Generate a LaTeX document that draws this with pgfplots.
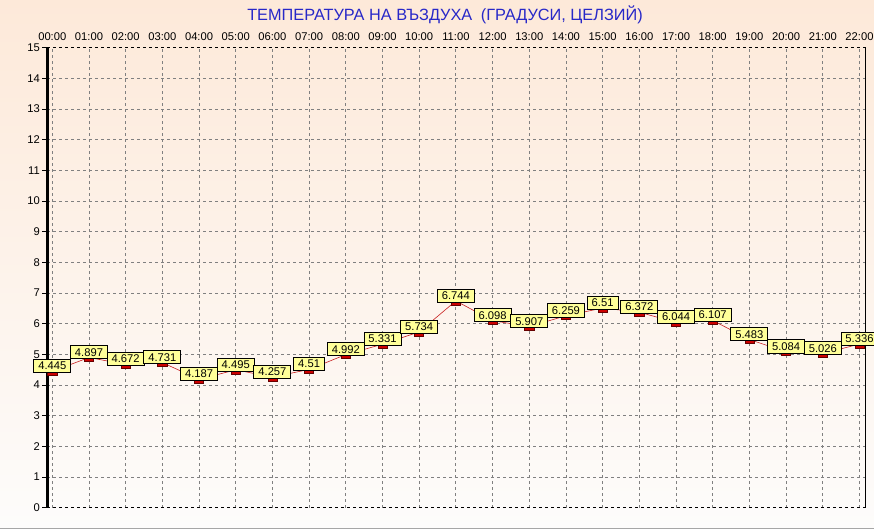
\documentclass[border=0pt]{standalone}
\usepackage{pgfplots}
\pgfplotsset{compat=1.18}
\usepackage{fontspec}
\setmainfont{Liberation Sans}
\definecolor{peach}{RGB}{253,233,217}
\definecolor{bgwhite}{RGB}{253,252,251}
\definecolor{titleblue}{RGB}{40,40,200}
\definecolor{lblyellow}{RGB}{255,255,153}
\definecolor{mkred}{RGB}{204,0,0}
\definecolor{lnred}{RGB}{200,30,30}
\begin{document}
\begin{tikzpicture}[x=1pt,y=1pt]
\useasboundingbox (0,0) rectangle (874,529);
\clip (0,0) rectangle (874,529);
\shade[top color=peach, bottom color=bgwhite] (0,0) rectangle (874,529);
\draw[gray!70, line width=1pt] (0,0.5) -- (874,0.5);
\node[font=\fontsize{16.3}{18}\selectfont, text=titleblue] at (445,514) {ТЕМПЕРАТУРА НА ВЪЗДУХА\hspace{4pt} (ГРАДУСИ, ЦЕЛЗИЙ)};
\begin{axis}[
  at={(47.3pt,21.3pt)}, anchor=south west,
  scale only axis, width=818.4pt, height=460pt,
  xmin=-0.136, xmax=22.17, ymin=0, ymax=15,
  xtick={0,...,22},
  xticklabels={00:00,01:00,02:00,03:00,04:00,05:00,06:00,07:00,08:00,09:00,10:00,11:00,12:00,13:00,14:00,15:00,16:00,17:00,18:00,19:00,20:00,21:00,22:00},
  xticklabel pos=top,
  ytick={0,...,15},
  ytick pos=left,
  tick align=outside,
  major tick length=5pt,
  xtick style={draw=none},
  ytick style={black, line width=0.8pt},
  ticklabel style={font=\fontsize{11.2}{13}\selectfont},
  xticklabel style={yshift=-1pt},
  yticklabel style={xshift=1pt},
  /pgf/number format/assume math mode=true,
  grid=major,
  major grid style={gray, dash pattern=on 3pt off 3pt, line width=0.8pt},
  axis line style={draw=none},
  clip=false,
  nodes near coords,
  point meta=explicit symbolic,
  every node near coord/.style={anchor=south, fill=lblyellow, draw=black, line width=0.9pt,
     inner xsep=4.5pt, inner ysep=2.6pt, font=\fontsize{11.2}{13}\selectfont, text=black, yshift=0.3pt},
]
\draw[black, line width=0.8pt, dash pattern=on 3pt off 3pt] (axis cs:-0.136,0) -- (axis cs:22.17,0);
\draw[black, line width=1.6pt, dash pattern=on 3pt off 3pt] (axis cs:-0.136,15) -- (axis cs:22.17,15);
\draw[black, line width=0.8pt] (axis cs:22.17,0) -- (axis cs:22.17,15);
\draw[black, line width=2.5pt] (axis cs:-0.136,0) -- (axis cs:-0.136,15);
\addplot[lnred, line width=0.6pt, mark=square*, mark size=2pt,
  mark options={xscale=2.3, fill=mkred, draw=red!40!black, line width=0.6pt, yshift=-2pt}]
  table[meta=lbl] {
x y lbl
0 4.445 4.445
1 4.897 4.897
2 4.672 4.672
3 4.731 4.731
4 4.187 4.187
5 4.495 4.495
6 4.257 4.257
7 4.51 4.51
8 4.992 4.992
9 5.331 5.331
10 5.734 5.734
11 6.744 6.744
12 6.098 6.098
13 5.907 5.907
14 6.259 6.259
15 6.51 6.51
16 6.372 6.372
17 6.044 6.044
18 6.107 6.107
19 5.483 5.483
20 5.084 5.084
21 5.026 5.026
22 5.336 5.336
};
\end{axis}
\end{tikzpicture}
\end{document}
